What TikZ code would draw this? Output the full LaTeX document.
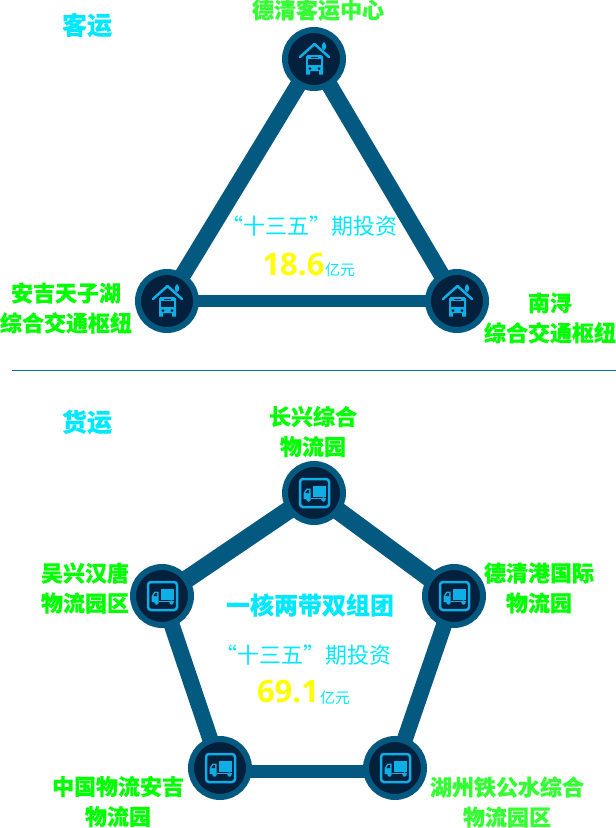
\documentclass[tikz,border=0pt]{standalone}
\usepackage{fontspec}
\newfontfamily\cjk[BoldFeatures={FakeBold=0.25}]{Noto Sans CJK SC}
\newfontfamily\numfont{Open Sans}
\usetikzlibrary{
  backgrounds
}
\definecolor{ringblue}{HTML}{03597F}
\definecolor{hubnavy}{HTML}{03203C}
\definecolor{iconblue}{HTML}{0FAEE6}
\definecolor{rulblue}{HTML}{0072B0}
\definecolor{titlecyan}{HTML}{00E8FF}
\definecolor{labelgreen}{HTML}{00FF00}
\definecolor{labellight}{HTML}{33FF33}
\definecolor{amountyellow}{RGB}{255,255,0}
\tikzset{
  hub/.style={circle, draw=ringblue, fill=hubnavy, line width=6pt, minimum size=58pt, inner sep=0pt, outer sep=0pt},
  link/.style={draw=ringblue, line width=#1, line cap=round},
  sitelabel/.style={align=center, inner sep=0pt, text=labelgreen, font=\cjk\bfseries\fontsize{22}{30}\selectfont},
  grouptitle/.style={inner sep=0pt, text=titlecyan, font=\cjk\bfseries\fontsize{#1}{28}\selectfont},
  grouptitle/.default=25,
  investlabel/.style={inner sep=0pt, text=titlecyan, font=\cjk\fontsize{22}{26}\selectfont},
  amount/.style={inner sep=0pt, text=amountyellow, font=\numfont\bfseries\fontsize{31}{35}\selectfont},
  unit/.style={inner sep=0pt, text=titlecyan, font=\cjk\fontsize{15}{18}\selectfont},
  busicon/.pic={
    \fill[iconblue, rounded corners=1.5pt] (-8,-4) rectangle (9,12);
    \fill[iconblue] (-8,11) rectangle (-4,15.5) (5,11) rectangle (9,15.5);
    \fill[hubnavy] (-6,0) rectangle (7,6);
    \fill[hubnavy] (-3,-2.5) rectangle (4,-1.5);
    \fill[hubnavy] (-4,9.5) circle (1.5) (5,9.5) circle (1.5);
    \draw[hubnavy, line width=1.5pt] (-11,-1) -- (0.5,-12) -- (12,-1);
    \draw[iconblue, line width=2.5pt, line cap=round, line join=round] (-14,-2) -- (0.5,-15) -- (15,-2);
    \fill[iconblue] (10,-17) .. controls (13,-14) and (13,-11) .. (10,-9) .. controls (7,-11) and (7,-14) .. (10,-17) -- cycle;
  },
  truckicon/.pic={
    \draw[iconblue, line width=2.5pt, rounded corners=3pt] (-14,-14) rectangle (15,14);
    \fill[iconblue] (-1.5,-7) rectangle (12,4);
    \fill[iconblue] (-3.5,-4.5) -- (-7.5,-4.5) -- (-10.5,0) -- (-10.5,6) -- (-3.5,6) -- cycle;
    \fill[hubnavy] (-5,-3) -- (-6.8,-3) -- (-8.6,0) -- (-5,0) -- cycle;
    \fill[iconblue] (-3.5,5) rectangle (12,6);
    \fill[iconblue] (-5.5,6.5) circle (2.2) (9.5,6.5) circle (2.2);
  }
}
\begin{document}
\begin{tikzpicture}[x=1pt, y=-1pt]
\useasboundingbox (0,0) rectangle (616,828);

% passenger
\node [hub] (bus-top) at (314,59) {};
\node [hub] (bus-left) at (167,301) {};
\node [hub] (bus-right) at (457,301) {};
\begin{scope}[on background layer]
\draw [link=16.5pt] (bus-top.center) -- (bus-left.center);
\draw [link=16.5pt] (bus-top.center) -- (bus-right.center);
\draw [link=12pt] (bus-left.center) -- (bus-right.center);
\end{scope}
\foreach \hubname in {bus-top,bus-left,bus-right}
  \pic at (\hubname) {busicon};

\node [grouptitle] (passenger-title) at (87,25) {客运};
\node [sitelabel, text=labellight] (label-deqing) at (318,10) {德清客运中心};
\node [sitelabel] (label-anji) at (66,308) {安吉天子湖\\综合交通枢纽};
\node [sitelabel] (label-nanxun) at (550,318) {南浔\\综合交通枢纽};
\node [investlabel] (invest-passenger) at (309,226) {“十三五”期投资};
\node [amount] (amount-passenger) at (293.5,264) {18.6};
\node [unit] (unit-passenger) at (340,270) {亿元};

\coordinate (rule-left) at (12,370);
\coordinate (rule-right) at (616,370);
\draw [rulblue, line width=1pt] (rule-left) -- (rule-right);

% freight
\node [hub] (truck-top) at (314,493) {};
\node [hub] (truck-left) at (162,596) {};
\node [hub] (truck-right) at (454,596) {};
\node [hub] (truck-lowleft) at (220,768) {};
\node [hub] (truck-lowright) at (395,768) {};
\begin{scope}[on background layer]
\draw [link=18pt] (truck-top.center) -- (truck-left.center);
\draw [link=18pt] (truck-top.center) -- (truck-right.center);
\draw [link=16pt] (truck-left.center) -- (truck-lowleft.center);
\draw [link=16pt] (truck-right.center) -- (truck-lowright.center);
\draw [link=13pt] ([yshift=-3.5pt]truck-lowleft.center) -- ([yshift=-3.5pt]truck-lowright.center);
\end{scope}
\foreach \hubname in {truck-top,truck-left,truck-right,truck-lowleft,truck-lowright}
  \pic at (\hubname) {truckicon};

\node [grouptitle] (freight-title) at (87,422) {货运};
\node [sitelabel] (label-changxing) at (313,431.5) {长兴综合\\物流园};
\node [sitelabel] (label-wuxing) at (85,588) {吴兴汉唐\\物流园区};
\node [sitelabel] (label-port) at (539,588) {德清港国际\\物流园};
\node [sitelabel] (label-china) at (118,801.5) {中国物流安吉\\物流园};
\node [sitelabel, text=labellight] (label-huzhou) at (507,802) {湖州铁公水综合\\物流园区};
\node [grouptitle=24] (core-title) at (310,605) {一核两带双组团};
\node [investlabel] (invest-freight) at (303,655) {“十三五”期投资};
\node [amount] (amount-freight) at (288,692) {69.1};
\node [unit] (unit-freight) at (335,698) {亿元};

\end{tikzpicture}
\end{document}
